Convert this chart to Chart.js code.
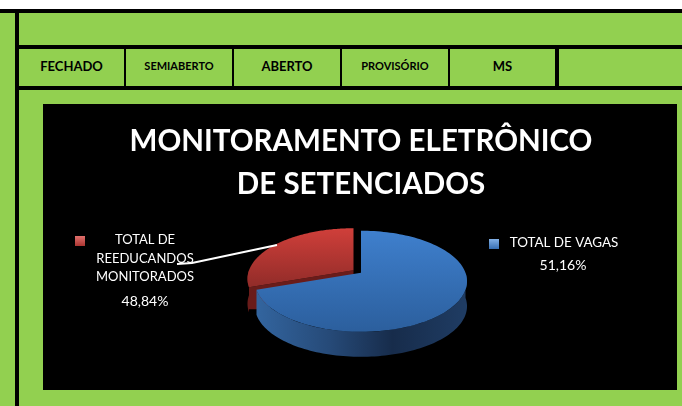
<!DOCTYPE html>
<html>
<head>
<meta charset="utf-8">
<script src="https://cdn.jsdelivr.net/npm/chart.js@4"></script>
<style>
  html, body { margin: 0; padding: 0; }
  body { width: 682px; height: 406px; background: #fff; overflow: hidden; position: relative; font-family: Lato, sans-serif; }
  .green { position: absolute; left: 0; top: 9px; width: 682px; height: 397px; background: #92d050; }
  .line { position: absolute; background: #000; }
  .cell { position: absolute; top: 49px; height: 37px; line-height: 34px; text-align: center; font-weight: bold; color: #000; }
  #box { position: absolute; left: 43px; top: 104px; width: 634px; height: 286px; background: #000; }
</style>
</head>
<body>
<div class="green"></div>
<div class="line" style="left:0;top:9px;width:682px;height:4px"></div>
<div class="line" style="left:15px;top:9px;width:4px;height:397px"></div>
<div class="line" style="left:15px;top:45px;width:667px;height:4px"></div>
<div class="line" style="left:15px;top:86px;width:667px;height:4px"></div>
<div class="line" style="left:124px;top:45px;width:2px;height:45px"></div>
<div class="line" style="left:232px;top:45px;width:2px;height:45px"></div>
<div class="line" style="left:340px;top:45px;width:2px;height:45px"></div>
<div class="line" style="left:448px;top:45px;width:2px;height:45px"></div>
<div class="line" style="left:555px;top:45px;width:4px;height:45px"></div>
<div id="cells"></div>
<div id="box"><canvas id="chart" width="634" height="286"></canvas></div>

<script>
const headerLabels = ["FECHADO", "SEMIABERTO", "ABERTO", "PROVISÓRIO", "MS"];
const headerLeft = [19, 126, 234, 342, 450];
const headerWidth = [105, 106, 106, 106, 105];
const headerFont = [13, 11, 13, 11, 13];

const titleLines = ["MONITORAMENTO ELETRÔNICO", "DE SETENCIADOS"];
const categories = ["TOTAL DE VAGAS", "TOTAL DE REEDUCANDOS MONITORADOS"];
// the labels say 51,16 / 48,84 but the slices in the picture are not drawn that way,
// so sliceShares is what was read off the drawing and percentLabels is the printed text
const sliceShares = [69.7, 30.3];
const percentLabels = ["51,16%", "48,84%"];

headerLabels.forEach((text, i) => {
  const d = document.createElement("div");
  d.className = "cell";
  d.textContent = text;
  d.style.left = headerLeft[i] + "px";
  d.style.width = headerWidth[i] + "px";
  d.style.fontSize = headerFont[i] + "px";
  document.getElementById("cells").appendChild(d);
});

// perspective of the tilted disc: v runs from back (-1) to front (1)
const tilt = -0.168;
const squash = 0.47;

function project(arc, angle) {
  const u = Math.cos(angle);
  const v = Math.sin(angle);
  const w = 1 + tilt * v;
  return {
    x: arc.x + arc.outerRadius * u / w,
    y: arc.y + arc.outerRadius * squash * (v / w),
  };
}

function tracePath(ctx, arc, dx, dy) {
  const steps = 120;
  ctx.beginPath();
  ctx.moveTo(arc.x + dx, arc.y + dy);
  for (let i = 0; i <= steps; i++) {
    const p = project(arc, arc.startAngle + (arc.endAngle - arc.startAngle) * i / steps);
    ctx.lineTo(p.x + dx, p.y + dy);
  }
  ctx.closePath();
}

function traceWall(ctx, arc, from, to, dx, dy, depth) {
  const steps = 100;
  ctx.beginPath();
  for (let i = 0; i <= steps; i++) {
    const p = project(arc, from + (to - from) * i / steps);
    if (i === 0) ctx.moveTo(p.x + dx, p.y + dy);
    else ctx.lineTo(p.x + dx, p.y + dy);
  }
  for (let i = steps; i >= 0; i--) {
    const p = project(arc, from + (to - from) * i / steps);
    ctx.lineTo(p.x + dx, p.y + dy + depth);
  }
  ctx.closePath();
}

const pie3d = {
  id: "pie3d",
  beforeDatasetsDraw(chart) {
    const ctx = chart.ctx;
    const arcs = chart.getDatasetMeta(0).data;
    const blue = arcs[0];
    const red = arcs[1];
    const depth = 25;

    // red slice first, it sits behind the blue one
    const rdx = -7.5, rdy = -2.5;
    ctx.fillStyle = "#6a1c1a";
    traceWall(ctx, red, red.startAngle, Math.PI, rdx, rdy, depth);
    ctx.fill();
    ctx.beginPath();
    const tip = { x: red.x + rdx, y: red.y + rdy };
    const corner = project(red, red.startAngle);
    ctx.moveTo(tip.x, tip.y);
    ctx.lineTo(corner.x + rdx, corner.y + rdy);
    ctx.lineTo(corner.x + rdx, corner.y + rdy + 22);
    ctx.lineTo(corner.x + rdx + 10, corner.y + rdy + 22);
    ctx.lineTo(tip.x, tip.y + 4);
    ctx.closePath();
    ctx.fill();
    const redFill = ctx.createLinearGradient(0, 125, 0, 185);
    redFill.addColorStop(0, "#cf3f3a");
    redFill.addColorStop(1, "#8f2b28");
    ctx.fillStyle = redFill;
    tracePath(ctx, red, rdx, rdy);
    ctx.fill();

    // blue wall, only the front part of the rim shows
    const wall = ctx.createLinearGradient(blue.x - 105, 0, blue.x + 105, 0);
    wall.addColorStop(0, "#33659f");
    wall.addColorStop(0.35, "#264a78");
    wall.addColorStop(0.65, "#172c4b");
    wall.addColorStop(1, "#1f3c63");
    ctx.fillStyle = wall;
    traceWall(ctx, blue, 0, blue.endAngle, 0, 0, depth);
    ctx.fill();

    const blueFill = ctx.createLinearGradient(0, 125, 0, 230);
    blueFill.addColorStop(0, "#3f80ce");
    blueFill.addColorStop(1, "#2b5e9c");
    ctx.fillStyle = blueFill;
    tracePath(ctx, blue, 0, 0);
    ctx.fill();
    return false;
  },
  afterDraw(chart) {
    const ctx = chart.ctx;
    ctx.fillStyle = "#fff";
    ctx.font = "13px Lato";
    ctx.textAlign = "center";
    ctx.textBaseline = "middle";
    ctx.fillText("TOTAL DE", 102, 136);
    ctx.fillText("REEDUCANDOS", 102, 155);
    ctx.fillText("MONITORADOS", 102, 173);
    ctx.font = "13.4px Lato";
    ctx.fillText(categories[0], 521, 139);
    ctx.font = "14px Lato";
    ctx.fillText(percentLabels[1], 102, 197);
    ctx.fillText(percentLabels[0], 520, 161);

    ctx.strokeStyle = "#fff";
    ctx.lineWidth = 2;
    ctx.beginPath();
    ctx.moveTo(134, 160);
    ctx.lineTo(149, 159);
    ctx.lineTo(234, 141);
    ctx.stroke();

    const red = ctx.createLinearGradient(0, 132, 0, 143);
    red.addColorStop(0, "#e0706c");
    red.addColorStop(1, "#a52f2b");
    ctx.fillStyle = red;
    ctx.fillRect(32, 132, 10, 10);
    const blue = ctx.createLinearGradient(0, 135, 0, 146);
    blue.addColorStop(0, "#82b0e6");
    blue.addColorStop(1, "#2f68ad");
    ctx.fillStyle = blue;
    ctx.fillRect(446, 135, 10, 10);
  },
};

new Chart(document.getElementById("chart").getContext("2d"), {
  type: "pie",
  data: {
    labels: categories,
    datasets: [
      {
        data: sliceShares,
        radius: 104.5,
        backgroundColor: ["#3f80ce", "#c83c37"],
        borderWidth: 0,
      },
    ],
  },
  options: {
    responsive: false,
    animation: false,
    rotation: 0,
    events: [],
    layout: { padding: { left: 2, bottom: 52 } },
    plugins: {
      legend: { display: false },
      tooltip: { enabled: false },
      title: {
        display: true,
        text: titleLines,
        color: "#fff",
        font: { family: "Lato", size: 29.5, weight: "bold", lineHeight: 1.45 },
        padding: { top: 16, bottom: 2 },
      },
    },
  },
  plugins: [pie3d],
});
</script>
</body>
</html>
